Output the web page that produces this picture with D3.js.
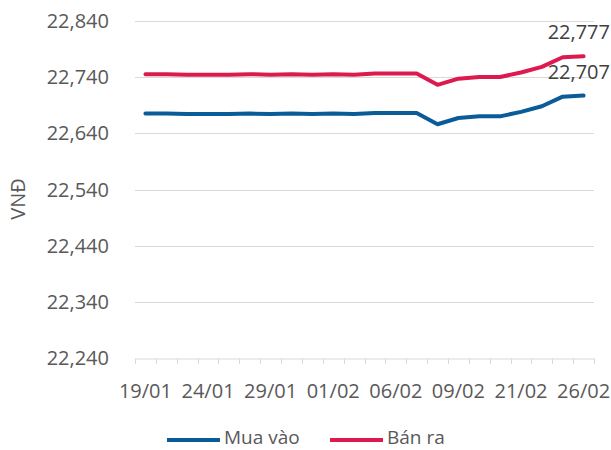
<!DOCTYPE html>
<html>
<head>
<meta charset="utf-8">
<script src="https://cdn.jsdelivr.net/npm/d3@7"></script>
<style>
  html, body { margin: 0; padding: 0; background: #fff; }
  svg { display: block; font-family: "Open Sans", "Noto Sans", sans-serif; }
</style>
</head>
<body>
<svg id="chart" width="611" height="450"></svg>
<script>
const categories = ["19/01","20/01","21/01","24/01","25/01","26/01","29/01","30/01","31/01","01/02","02/02","03/02","06/02","07/02","08/02","09/02","10/02","11/02","21/02","22/02","23/02","26/02"];
const labeledCategories = ["19/01","24/01","29/01","01/02","06/02","09/02","21/02","26/02"];
const muaVao = [22675,22675,22674,22674,22674,22675,22674,22675,22674,22675,22674,22676,22676,22676,22656,22667,22670,22670,22678,22688,22705,22707];
const banRa  = [22745,22745,22744,22744,22744,22745,22744,22745,22744,22745,22744,22746,22746,22746,22726,22737,22740,22740,22748,22758,22775,22777];
const yTicks = [22240,22340,22440,22540,22640,22740,22840];
const seriesNames = ["Mua vào","Bán ra"];
const colors = ["#0a5c98","#dc1a4f"];

const FS = 20;
const svg = d3.select("#chart");
const x = d3.scaleBand().domain(categories).range([135, 594]).paddingInner(0).paddingOuter(0);
const y = d3.scaleLinear().domain([22240, 22840]).range([358.3, 20.7]);
const fmt = d3.format(",");

// gridlines
svg.append("g").selectAll("line").data(yTicks.slice(1)).join("line")
  .attr("x1", 135).attr("x2", 594)
  .attr("y1", d => Math.round(y(d)) + 0.5).attr("y2", d => Math.round(y(d)) + 0.5)
  .attr("stroke", "#d9d9d9").attr("stroke-width", 1);

// y tick labels
svg.append("g").selectAll("text").data(yTicks).join("text")
  .attr("x", 109).attr("y", d => y(d)).attr("dy", "0.35em")
  .attr("text-anchor", "end").attr("font-size", FS).attr("fill", "#595959")
  .text(d => fmt(d));

// y axis title
svg.append("text").attr("transform", "translate(25,199) rotate(-90)")
  .attr("text-anchor", "middle").attr("font-size", FS).attr("fill", "#595959")
  .text("VNĐ");

// x axis
const xAxis = d3.axisBottom(x).tickSize(0).tickFormat(d => labeledCategories.includes(d) ? d : "");
const gx = svg.append("g").attr("transform", "translate(0,358.5)").call(xAxis);
gx.select(".domain").attr("stroke", "#d9d9d9");
gx.selectAll("text").attr("font-size", FS).attr("fill", "#595959").attr("dy", 0).attr("y", 39)
  .attr("font-family", "'Open Sans', 'Noto Sans', sans-serif");
// tick marks at band boundaries
const bounds = categories.map(c => x(c)).concat([x(categories[categories.length - 1]) + x.bandwidth()]);
svg.append("g").selectAll("line").data(bounds).join("line")
  .attr("x1", d => Math.round(d) + 0.5).attr("x2", d => Math.round(d) + 0.5)
  .attr("y1", 358.5).attr("y2", 364)
  .attr("stroke", "#d9d9d9");

// lines
const line = d3.line().x((d, i) => x(categories[i]) + x.bandwidth() / 2).y(d => y(d));
[muaVao, banRa].forEach((s, k) => {
  svg.append("path").datum(s).attr("d", line).attr("fill", "none")
    .attr("stroke", colors[k]).attr("stroke-width", 4)
    .attr("stroke-linejoin", "round").attr("stroke-linecap", "round");
});

// data labels on last points (kept inside the frame)
const last = categories.length - 1;
[banRa, muaVao].forEach(s => {
  svg.append("text").attr("x", 610)
    .attr("y", y(s[last]) - 17).attr("text-anchor", "end")
    .attr("font-size", FS).attr("fill", "#404040").text(fmt(s[last]));
});

// legend
const legend = svg.append("g");
const lx = [167, 330];
seriesNames.forEach((n, k) => {
  legend.append("line").attr("x1", lx[k]).attr("x2", lx[k] + 53).attr("y1", 440).attr("y2", 440)
    .attr("stroke", colors[k]).attr("stroke-width", 4);
  legend.append("text").attr("x", lx[k] + 57).attr("y", 444)
    .attr("font-size", FS - 1).attr("fill", "#595959").text(n);
});
</script>
</body>
</html>
